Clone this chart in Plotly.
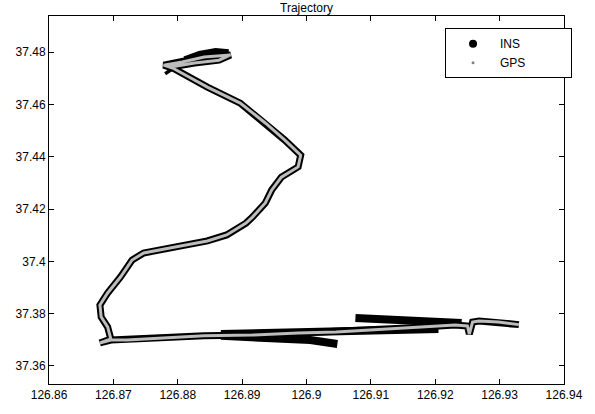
import plotly.graph_objects as go

# GPS track (longitude, latitude)
gps_lon = [126.9330, 126.9298, 126.9268, 126.9258, 126.9253, 126.9250, 126.9231, 126.9156,
           126.9096, 126.9046, 126.8987, 126.8916, 126.8841, 126.8781, 126.8721, 126.8696,
           126.8679, 126.8696, 126.8691, 126.8681, 126.8679, 126.8691, 126.8711, 126.8729,
           126.8747, 126.8796, 126.8846, 126.8876, 126.8906, 126.8916, 126.8936, 126.8946,
           126.8961, 126.8987, 126.8991, 126.8966, 126.8936, 126.8897, 126.8846, 126.8792,
           126.8778, 126.8807, 126.8841, 126.8882, 126.8864, 126.8826, 126.8789]
gps_lat = [37.3758, 37.3768, 37.3772, 37.3768, 37.3722, 37.3753, 37.3757, 37.3745,
           37.3738, 37.3730, 37.3726, 37.3718, 37.3715, 37.3707, 37.3699, 37.3699,
           37.3688, 37.3703, 37.3749, 37.3787, 37.3833, 37.3879, 37.3940, 37.4005,
           37.4032, 37.4055, 37.4078, 37.4101, 37.4146, 37.4169, 37.4223, 37.4273,
           37.4322, 37.4361, 37.4406, 37.4464, 37.4529, 37.4605, 37.4666, 37.4739,
           37.4750, 37.4762, 37.4781, 37.4789, 37.4769, 37.4758, 37.4743]

# INS track pieces that separate from the GPS track (None breaks the line)
ins_lon = [126.8867, 126.8946, 126.9006, 126.9048, None,
           126.8867, 126.8976, 126.9066, 126.9156, 126.9205, None,
           126.9076, 126.9126, 126.9186, 126.9241, None,
           126.8811, 126.8834, 126.8859, 126.8879, None,
           126.8784, 126.8787]
ins_lat = [37.3715, 37.3707, 37.3699, 37.3684, None,
           37.3722, 37.3730, 37.3738, 37.3745, 37.3741, None,
           37.3783, 37.3776, 37.3768, 37.3764, None,
           37.4769, 37.4789, 37.4800, 37.4796, None,
           37.4731, 37.4720]

x_ticks = [126.86, 126.87, 126.88, 126.89, 126.90, 126.91, 126.92, 126.93, 126.94]
x_labels = ["126.86", "126.87", "126.88", "126.89", "126.9", "126.91", "126.92", "126.93", "126.94"]
y_ticks = [37.36, 37.38, 37.40, 37.42, 37.44, 37.46, 37.48]
y_labels = ["37.36", "37.38", "37.4", "37.42", "37.44", "37.46", "37.48"]

FONT = "Liberation Sans, Arial, sans-serif"
PAD = "\u00a0" * 12

fig = go.Figure()
# dark underlay of the GPS track (INS points coincide with it)
fig.add_trace(go.Scatter(x=gps_lon, y=gps_lat, mode="lines",
                         line=dict(color="black", width=7), showlegend=False, hoverinfo="skip"))
fig.add_trace(go.Scatter(x=ins_lon, y=ins_lat, mode="lines",
                         line=dict(color="black", width=8), showlegend=False))
fig.add_trace(go.Scatter(x=gps_lon, y=gps_lat, mode="lines",
                         line=dict(color="#bcbcbc", width=3), showlegend=False))
# legend entries
fig.add_trace(go.Scatter(x=[None], y=[None], mode="markers", name="INS" + PAD,
                         marker=dict(color="black", size=8)))
fig.add_trace(go.Scatter(x=[None], y=[None], mode="markers", name="GPS" + PAD,
                         marker=dict(color="#808080", size=3)))

axis_common = dict(showline=True, linecolor="black", linewidth=1, mirror="ticks",
                   ticks="inside", ticklen=5, tickcolor="black", showgrid=False,
                   zeroline=False, ticklabeloverflow="allow",
                   tickfont=dict(family=FONT, size=12, color="black"))

fig.update_layout(
    width=595, height=414,
    margin=dict(l=49, r=17, t=16, b=30),
    paper_bgcolor="white", plot_bgcolor="white",
    title=dict(text="Trajectory", x=0.5, xref="paper", y=0.981, yanchor="middle",
               font=dict(family=FONT, size=12, color="black")),
    xaxis=dict(range=[126.85999, 126.94001], tickvals=x_ticks, ticktext=x_labels, **axis_common),
    yaxis=dict(range=[37.3531, 37.4938], tickvals=y_ticks, ticktext=y_labels, **axis_common),
    legend=dict(x=0.769, xanchor="left", y=0.967, yanchor="top",
                bordercolor="black", borderwidth=1, bgcolor="white",
                font=dict(family=FONT, size=12, color="black"),
                itemwidth=44, tracegroupgap=0),
    showlegend=True,
)

fig.write_html("out.html", config={"displayModeBar": False},
               post_script="document.body.style.margin='0';document.body.style.overflow='hidden';")
